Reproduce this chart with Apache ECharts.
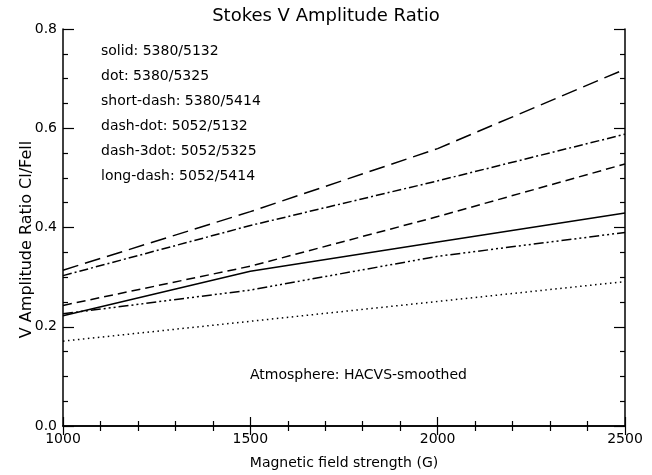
<!DOCTYPE html>
<html>
<head>
<meta charset="utf-8">
<script src="https://cdn.jsdelivr.net/npm/echarts@6/dist/echarts.min.js"></script>
<style>html,body{margin:0;padding:0;background:#fff}#c{width:652px;height:475px}</style>
</head>
<body>
<div id="c"></div>
<script>
var fieldStrength = [1000, 1500, 2000, 2500];
var solid5380_5132 = [0.222, 0.312, 0.371, 0.429];
var dot5380_5325 = [0.171, 0.211, 0.251, 0.291];
var shortDash5380_5414 = [0.243, 0.322, 0.422, 0.528];
var dashDot5052_5132 = [0.303, 0.404, 0.494, 0.588];
var dash3dot5052_5325 = [0.226, 0.274, 0.342, 0.390];
var longDash5052_5414 = [0.314, 0.432, 0.559, 0.719];
var seriesNames = ['solid: 5380/5132', 'dot: 5380/5325', 'short-dash: 5380/5414',
  'dash-dot: 5052/5132', 'dash-3dot: 5052/5325', 'long-dash: 5052/5414'];
var seriesValues = [solid5380_5132, dot5380_5325, shortDash5380_5414,
  dashDot5052_5132, dash3dot5052_5325, longDash5052_5414];
var titleText = 'Stokes V Amplitude Ratio';
var xName = 'Magnetic field strength (G)';
var yName = 'V Amplitude Ratio Cl/Fell';
var noteText = 'Atmosphere: HACVS-smoothed';

var dashTypes = ['solid', [1.5, 3.5], [9, 5], [9, 3, 2, 3], [10, 3, 2, 3, 2, 3, 2, 3], [16, 7]];
var FONT = 'DejaVu Sans';

var chart = echarts.init(document.getElementById('c'), null, {renderer: 'canvas'});

function pairs(vals) {
  return fieldStrength.map(function (x, i) { return [x, vals[i]]; });
}

var series = seriesValues.map(function (vals, i) {
  return {
    name: seriesNames[i], type: 'line', data: pairs(vals), symbol: 'none',
    xAxisIndex: 0, yAxisIndex: 0, animation: false,
    lineStyle: {color: '#000', width: 1.5, type: dashTypes[i]}
  };
});

var graphics = seriesNames.map(function (n, i) {
  return {type: 'text', left: 101, top: 44 + i * 25,
    style: {text: n, font: '14px "' + FONT + '"', fill: '#000'}};
});
graphics.push({type: 'text', left: 250, top: 368,
  style: {text: noteText, font: '14px "' + FONT + '"', fill: '#000'}});

var axisLine = {show: true, lineStyle: {color: '#000', width: 1.5}};
function xAx(pos, showLabel) {
  return {type: 'value', position: pos, min: 1000, max: 2500, interval: 500,
    axisLine: axisLine, splitLine: {show: false},
    axisTick: {show: true, inside: true, length: 9, lineStyle: {color: '#000', width: 1.2}},
    minorTick: {show: true, splitNumber: 5, length: 5, lineStyle: {color: '#000', width: 1.2}},
    axisLabel: {show: showLabel, color: '#000', fontFamily: FONT, fontSize: 14, margin: 6,
      formatter: function (v) { return String(v); }},
    name: showLabel ? xName : '', nameLocation: 'middle', nameGap: 30, nameMoveOverlap: false,
    nameTextStyle: {color: '#000', fontFamily: FONT, fontSize: 14}};
}
function yAx(pos, showLabel) {
  return {type: 'value', position: pos, min: 0, max: 0.8, interval: 0.2,
    axisLine: axisLine, splitLine: {show: false},
    axisTick: {show: true, inside: true, length: 11, lineStyle: {color: '#000', width: 1.2}},
    minorTick: {show: true, splitNumber: 4, length: 5, lineStyle: {color: '#000', width: 1.2}},
    axisLabel: {show: showLabel, color: '#000', fontFamily: FONT, fontSize: 14, margin: 6,
      formatter: function (v) { return v.toFixed(1); }},
    name: showLabel ? yName : '', nameLocation: 'middle', nameGap: 28, nameMoveOverlap: false,
    nameTextStyle: {color: '#000', fontFamily: FONT, fontSize: 16, padding: [0, 24, 0, 0]}};
}

chart.setOption({
  backgroundColor: '#fff',
  animation: false,
  title: {text: titleText, left: 'center', top: 2,
    textStyle: {color: '#000', fontFamily: FONT, fontSize: 18, fontWeight: 'normal'}},
  grid: {left: 63, right: 27, top: 29, bottom: 46, containLabel: false},
  xAxis: [xAx('bottom', true), xAx('top', false)],
  yAxis: [yAx('left', true), yAx('right', false)],
  graphic: graphics,
  series: series
});
</script>
</body>
</html>
